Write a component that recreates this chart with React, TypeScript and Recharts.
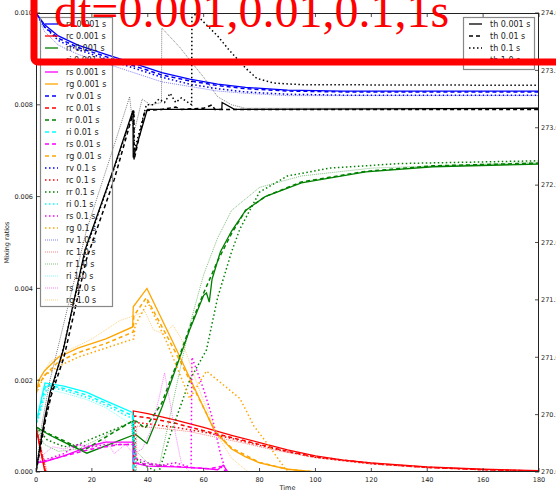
import { ComposedChart, Line, XAxis, YAxis } from "recharts";

type Pt = [number, number];

// axes
const timeTicks = [0, 20, 40, 60, 80, 100, 120, 140, 160, 180];
const ratioTicks = [0, 0.002, 0.004, 0.006, 0.008, 0.01];
const thetaTicks = [270, 270.5, 271, 271.5, 272, 272.5, 273, 273.5, 274];
const stepLabels = ["0.001", "0.01", "0.1", "1.0"];
const speciesNames = ["rv", "rc", "rr", "ri", "rs", "rg"];

// vapour
const rv001: Pt[] = [[0, 0.01], [3, 0.00975], [8, 0.0095], [15, 0.0093], [25, 0.0091], [35, 0.0089], [45, 0.0087], [55, 0.00856], [65, 0.00845], [75, 0.00838], [90, 0.00832], [110, 0.0083], [180, 0.0083]];
const rv01: Pt[] = [[0, 0.01], [3, 0.0097], [8, 0.00945], [15, 0.00925], [25, 0.00905], [35, 0.00885], [45, 0.00865], [55, 0.00852], [65, 0.00842], [75, 0.00835], [90, 0.0083], [110, 0.00828], [180, 0.00828]];
const rv1: Pt[] = [[0, 0.01], [3, 0.0097], [8, 0.0094], [15, 0.0092], [25, 0.009], [35, 0.0088], [45, 0.0086], [55, 0.00845], [65, 0.00835], [75, 0.00828], [90, 0.00823], [110, 0.00821], [180, 0.00821]];
const rv10: Pt[] = [[0, 0.01], [3, 0.0096], [8, 0.0093], [15, 0.0091], [25, 0.0089], [35, 0.0087], [45, 0.0085], [55, 0.0084], [65, 0.0083], [75, 0.00825], [90, 0.0082], [180, 0.0082]];

// cloud
const rc001: Pt[] = [[0, 0.00098], [1.5, 0.0005], [3.2, 0], [34.8, 0], [34.8, 0.00133], [40, 0.00127], [50, 0.00113], [60, 0.00097], [70, 0.0008], [80, 0.00064], [90, 0.00048], [100, 0.00035], [110, 0.00026], [120, 0.0002], [140, 0.00011], [160, 0.00006], [180, 0.00003]];
const rc01: Pt[] = [[0, 0.00098], [3.4, 0], [35, 0], [35, 0.00122], [40, 0.00118], [50, 0.00106], [60, 0.0009], [70, 0.00075], [80, 0.0006], [90, 0.00045], [100, 0.00033], [120, 0.00019], [140, 0.0001], [160, 0.00005], [180, 0.00002]];
const rc1: Pt[] = [[0, 0.00098], [3.5, 0], [35.5, 0], [35.5, 0.00108], [40, 0.00105], [50, 0.00097], [60, 0.00087], [70, 0.00073], [80, 0.00058], [90, 0.00044], [100, 0.00032], [120, 0.00018], [140, 0.0001], [160, 0.00005], [180, 0.00002]];
const rc10: Pt[] = [[0, 0.00098], [4, 0], [36, 0], [36, 0.001], [45, 0.00095], [55, 0.00088], [65, 0.00075], [75, 0.00062], [85, 0.00048], [100, 0.00031], [120, 0.00017], [140, 0.00009], [180, 0.00002]];

// rain
const rr001: Pt[] = [[0, 0.00098], [5, 0.0008], [10, 0.00065], [18.2, 0.00041], [34.6, 0.0008], [35, 0.00085], [39.7, 0.00062], [45, 0.0014], [50, 0.00225], [55, 0.0031], [60, 0.00385], [61, 0.0039], [62, 0.0037], [63, 0.0042], [66, 0.0048], [70, 0.00525], [75, 0.0057], [82, 0.006], [95, 0.0063], [118, 0.00654], [142, 0.00665], [180, 0.00671]];
const rr01: Pt[] = [[0, 0.00098], [5, 0.00082], [10, 0.00068], [17, 0.00047], [34.8, 0.00112], [36, 0.0011], [39, 0.00095], [45, 0.0015], [50, 0.0023], [55, 0.00315], [60, 0.0039], [65, 0.0046], [70, 0.0052], [75, 0.0057], [82, 0.006], [95, 0.00632], [118, 0.00655], [142, 0.00667], [180, 0.00673]];
const rr1: Pt[] = [[0, 0.00098], [4, 0.0007], [10, 0.00055], [15, 0.0006], [25, 0.00085], [34.8, 0.0011], [35.5, 0.0003], [40, 0.0001], [44, 0], [48, 0.0008], [55, 0.002], [61, 0.00266], [65, 0.0038], [70, 0.0048], [73, 0.0053], [80, 0.0061], [90, 0.00645], [105, 0.00662], [130, 0.00672], [180, 0.00678]];
const rr10: Pt[] = [[0, 0.00098], [3, 0.0006], [8, 0.00045], [15, 0.0005], [25, 0.0008], [34, 0.0011], [35, 0.0005], [40, 0.0002], [44, 0.0001], [50, 0.0018], [55, 0.0032], [60, 0.0043], [65, 0.0051], [70, 0.0057], [80, 0.0062], [95, 0.00645], [120, 0.00662], [180, 0.00675]];

// ice
const ri001: Pt[] = [[0, 0.00107], [3.2, 0.00194], [10, 0.00187], [18, 0.00174], [25, 0.00155], [34.5, 0.0013], [34.8, 0], [180, 0]];
const ri01: Pt[] = [[0, 0.00105], [3.5, 0.0019], [10, 0.00182], [18, 0.00168], [25, 0.0015], [34.8, 0.00122], [35, 0], [180, 0]];
const ri1: Pt[] = [[0, 0.001], [4, 0.00186], [10, 0.00178], [18, 0.00163], [25, 0.00145], [35, 0.00115], [35.5, 0], [180, 0]];
const ri10: Pt[] = [[0, 0.001], [4, 0.0018], [10, 0.00172], [18, 0.00158], [25, 0.0014], [35, 0.001], [36, 0], [180, 0]];

// snow
const rs001: Pt[] = [[0, 0.0002], [3, 0.00022], [10, 0.00035], [20, 0.00058], [25, 0.00065], [34.8, 0.00065], [34.8, 0.0002], [40, 0.00013], [50, 0.00011], [60, 0.00008], [65, 0.00005], [67, 0.00015], [68.7, 0], [180, 0]];
const rs01: Pt[] = [[0, 0.0002], [4, 0.00025], [10, 0.00035], [20, 0.0005], [30, 0.0006], [35, 0.0006], [35.2, 0.0002], [45, 0.00014], [55, 0.0001], [62, 0.00007], [66, 0.00012], [68, 0], [180, 0]];
const rs1: Pt[] = [[0, 0.0002], [5, 0.0003], [10, 0.0004], [15, 0.0006], [20, 0.00055], [25, 0.0006], [30, 0.0006], [35, 0.0006], [36, 0.0003], [40, 0.0002], [45, 0.00015], [50, 0.0002], [55.5, 0.0001], [55.8, 0.0025], [60, 0.0018], [63, 0.0012], [66, 0.0004], [68, 0], [180, 0]];
const rs10: Pt[] = [[0, 0.0002], [3, 0.0004], [6, 0.00055], [10, 0.0005], [15, 0.0006], [20, 0.0005], [25, 0.0007], [28, 0.0004], [32, 0.0006], [35, 0.0004], [38, 0.0005], [41, 0.0009], [44, 0.0016], [46, 0.00216], [48, 0.0015], [50, 0.0008], [52, 0.0002], [55, 0], [180, 0]];

// graupel
const rg001: Pt[] = [[0, 0.0017], [1, 0.002], [3, 0.0022], [8, 0.0025], [15, 0.0027], [25, 0.0029], [34.6, 0.00316], [34.8, 0.0036], [39.7, 0.004], [50, 0.0027], [60, 0.0014], [64, 0.00088], [70, 0.0005], [75, 0.00033], [80, 0.0002], [90, 0.00006], [100, 0], [180, 0]];
const rg01: Pt[] = [[0, 0.0017], [1, 0.0019], [3, 0.0021], [8, 0.0024], [15, 0.0026], [25, 0.0028], [34.8, 0.00305], [35, 0.0034], [39.5, 0.0038], [50, 0.0026], [60, 0.0014], [64, 0.0009], [70, 0.00052], [80, 0.00021], [90, 0.00006], [100, 0], [180, 0]];
const rg1: Pt[] = [[0, 0.0017], [3, 0.0021], [8, 0.0023], [15, 0.0025], [25, 0.0027], [35, 0.0029], [35.5, 0.0032], [40, 0.0037], [47, 0.0028], [55, 0.0016], [58, 0.0019], [61, 0.0022], [65, 0.002], [73, 0.0016], [78, 0.001], [83, 0.0006], [90, 0], [180, 0]];
const rg10: Pt[] = [[0, 0.0018], [2, 0.0021], [5, 0.0024], [10, 0.0026], [20, 0.0029], [30, 0.0033], [35, 0.0034], [39, 0.0035], [42, 0.0031], [46, 0.003], [49, 0.0032], [52, 0.0029], [56, 0.0022], [59, 0.0017], [65, 0.0008], [70, 0.0003], [76, 0], [180, 0]];

// potential temperature (right axis)
const th001: Pt[] = [[0, 270], [1.4, 270.22], [3.2, 270.48], [5, 270.69], [9.7, 271.06], [17.5, 271.93], [27.6, 272.63], [34.7, 273.15], [34.8, 272.74], [39.7, 273.15], [40, 273.16], [66.5, 273.16], [66.6, 273.22], [71, 273.16], [180, 273.17]];
const th01: Pt[] = [[0, 270], [1.5, 270.2], [3.5, 270.47], [5.5, 270.67], [10, 271.0], [18, 271.85], [28, 272.55], [35, 273.15], [35.1, 272.72], [39, 273.15], [45, 273.16], [50, 273.18], [52, 273.16], [60, 273.17], [63, 273.2], [64, 273.16], [180, 273.16]];
const th1: Pt[] = [[0, 270], [2, 270.3], [5, 270.65], [10, 271.1], [18, 271.95], [28, 272.65], [35, 273.15], [35.2, 272.8], [39.5, 273.2], [42, 273.2], [44, 273.25], [46, 273.22], [48, 273.3], [50, 273.22], [52, 273.26], [55.7, 273.2], [55.8, 274.0], [58, 273.97], [65, 273.8], [69, 273.68], [75, 273.52], [79, 273.43], [85, 273.39], [95, 273.375], [180, 273.37]];
const th10: Pt[] = [[0, 270], [2, 270.4], [5, 270.8], [10, 271.3], [18, 272.1], [28, 272.85], [33.5, 273.27], [35, 272.95], [38, 273.25], [41, 273.2], [44.9, 273.22], [45, 273.87], [51.5, 273.7], [56, 273.56], [60, 273.44], [65, 273.27], [70, 273.2], [75, 273.17], [180, 273.17]];

const speciesColors: Record<string, string> = {
  rv: "#0000ff",
  rc: "#ff0000",
  rr: "#008000",
  ri: "#00ffff",
  rs: "#ff00ff",
  rg: "#ffa500",
};

// one style per time step: solid, dashed, dotted, fine dotted
const stepStyles = [
  { dash: undefined as string | undefined, width: 1.3, opacity: 1 },
  { dash: "4 3", width: 1.5, opacity: 1 },
  { dash: "1.5 2.5", width: 1.5, opacity: 1 },
  { dash: "1 1", width: 1, opacity: 0.5 },
];

const ratioData: Record<string, Pt[][]> = {
  rv: [rv001, rv01, rv1, rv10],
  rc: [rc001, rc01, rc1, rc10],
  rr: [rr001, rr01, rr1, rr10],
  ri: [ri001, ri01, ri1, ri10],
  rs: [rs001, rs01, rs1, rs10],
  rg: [rg001, rg01, rg1, rg10],
};
const thetaData = [th001, th01, th1, th10];

type Series = { name: string; color: string; step: number; points: { t: number; v: number }[] };

const toRows = (pts: Pt[]) => pts.map(([t, v]) => ({ t, v }));

const ratioSeries: Series[] = [];
stepLabels.forEach((lab, i) => {
  speciesNames.forEach((s) => {
    ratioSeries.push({ name: `${s} ${lab} s`, color: speciesColors[s], step: i, points: toRows(ratioData[s][i]) });
  });
});
const thetaSeries: Series[] = stepLabels.map((lab, i) => ({
  name: `th ${lab} s`,
  color: "#000000",
  step: i,
  points: toRows(thetaData[i]),
}));

// plot box
const LEFT = 36;
const RIGHT = 539;
const TOP = 13;
const BOTTOM = 472;
const W = 556;
const H = 491;
const tickFont = { fontFamily: "DejaVu Sans", fontSize: 6.5, fill: "#222" };

const TimeTick = (p: any) => (
  <g>
    <line x1={p.x} x2={p.x} y1={BOTTOM} y2={BOTTOM - 4} stroke="#222" strokeWidth={0.8} />
    <line x1={p.x} x2={p.x} y1={TOP} y2={TOP + 4} stroke="#222" strokeWidth={0.8} />
    <text x={p.x} y={BOTTOM + 10} textAnchor="middle" {...tickFont}>
      {p.payload.value}
    </text>
  </g>
);

const RatioTick = (p: any) => (
  <g>
    <line x1={LEFT} x2={LEFT + 4} y1={p.y} y2={p.y} stroke="#222" strokeWidth={0.8} />
    <text x={LEFT - 3} y={p.y + 2.3} textAnchor="end" {...tickFont}>
      {Number(p.payload.value).toFixed(3)}
    </text>
  </g>
);

const ThetaTick = (p: any) => (
  <g>
    <line x1={RIGHT - 4} x2={RIGHT} y1={p.y} y2={p.y} stroke="#222" strokeWidth={0.8} />
    <text x={RIGHT + 2} y={p.y + 2.3} textAnchor="start" {...tickFont}>
      {Number(p.payload.value).toFixed(1)}
    </text>
  </g>
);

const LegendRow = ({ s, x, y }: { s: Series; x: number; y: number }) => {
  const st = stepStyles[s.step];
  return (
    <g>
      <line x1={x} x2={x + 13} y1={y} y2={y} stroke={s.color} strokeWidth={st.width} strokeDasharray={st.dash} strokeOpacity={st.opacity} />
      <text x={x + 21} y={y + 2.8} fontFamily="DejaVu Sans" fontSize={8} fill="#222">
        {s.name}
      </text>
    </g>
  );
};

export default function App() {
  return (
    <div style={{ position: "absolute", left: 0, top: 0, width: W, height: H, overflow: "hidden", background: "#fff" }}>
      <ComposedChart width={W} height={H} margin={{ top: TOP, right: 0, bottom: 0, left: 0 }}>
        <XAxis
          xAxisId={0}
          type="number"
          dataKey="t"
          domain={[0, 180]}
          ticks={timeTicks}
          allowDataOverflow
          height={H - BOTTOM}
          axisLine={false}
          tickLine={false}
          tick={TimeTick}
        />
        <YAxis
          yAxisId="mr"
          domain={[0, 0.01]}
          ticks={ratioTicks}
          allowDataOverflow
          width={LEFT}
          axisLine={false}
          tickLine={false}
          tick={RatioTick}
        />
        <YAxis
          yAxisId="th"
          orientation="right"
          domain={[270, 274]}
          ticks={thetaTicks}
          allowDataOverflow
          width={W - RIGHT}
          axisLine={false}
          tickLine={false}
          tick={ThetaTick}
        />
        {ratioSeries.map((s) => (
          <Line
            key={s.name}
            yAxisId="mr"
            data={s.points}
            dataKey="v"
            type="linear"
            stroke={s.color}
            strokeWidth={stepStyles[s.step].width}
            strokeDasharray={stepStyles[s.step].dash}
            strokeOpacity={stepStyles[s.step].opacity}
            dot={false}
            activeDot={false}
            isAnimationActive={false}
          />
        ))}
        {thetaSeries.map((s) => (
          <Line
            key={s.name}
            yAxisId="th"
            data={s.points}
            dataKey="v"
            type="linear"
            stroke={s.color}
            strokeWidth={stepStyles[s.step].width}
            strokeDasharray={stepStyles[s.step].dash}
            strokeOpacity={stepStyles[s.step].opacity}
            dot={false}
            activeDot={false}
            isAnimationActive={false}
          />
        ))}
      </ComposedChart>

      <svg width={W} height={H} style={{ position: "absolute", left: 0, top: 0, pointerEvents: "none" }}>
        <rect x={LEFT + 0.5} y={TOP + 0.5} width={RIGHT - LEFT - 1} height={BOTTOM - TOP - 1} fill="none" stroke="#222" strokeWidth={1} />
        <text x={9} y={(TOP + BOTTOM) / 2} transform={`rotate(-90 9 ${(TOP + BOTTOM) / 2})`} textAnchor="middle" {...tickFont}>
          Mixing ratios
        </text>
        <text x={(LEFT + RIGHT) / 2} y={H - 1} textAnchor="middle" {...tickFont}>
          Time
        </text>

        {/* legends */}
        <rect x={40.5} y={17.5} width={72} height={289} fill="none" stroke="#888" strokeWidth={1.2} />
        {ratioSeries.map((s, i) => (
          <LegendRow key={s.name} s={s} x={45} y={24 + i * 12} />
        ))}
        <rect x={463.5} y={17.5} width={71} height={52} fill="none" stroke="#888" strokeWidth={1.2} />
        {thetaSeries.map((s, i) => (
          <LegendRow key={s.name} s={s} x={469} y={24 + i * 12} />
        ))}

        {/* heading with its box */}
        <rect x={34} y={-40} width={600} height={102} rx={4} fill="none" stroke="#ff0000" strokeWidth={7} />
        <text x={54} y={27} fontFamily="Liberation Serif" fontSize={48} fill="#ff0000">
          dt=0.001,0.01,0.1,1s
        </text>
      </svg>
    </div>
  );
}
